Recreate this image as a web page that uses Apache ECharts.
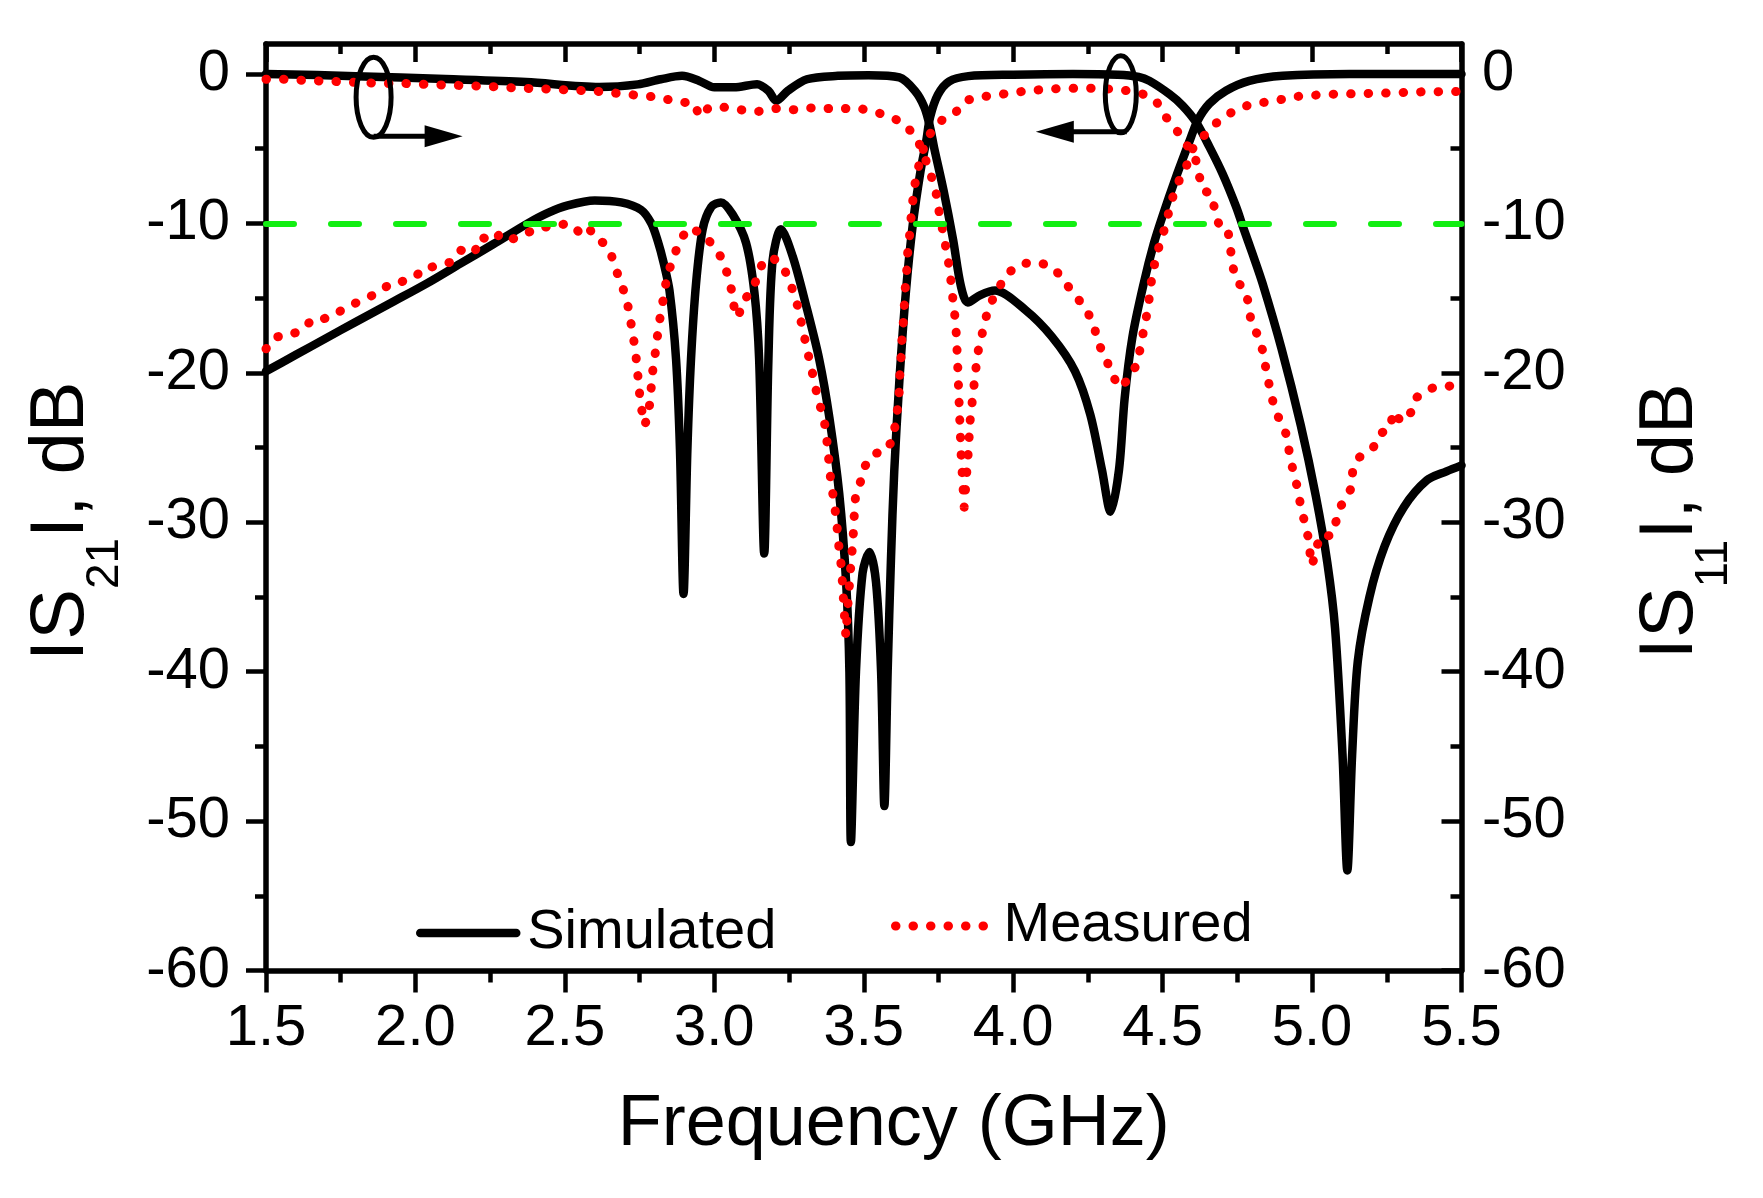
<!DOCTYPE html>
<html>
<head>
<meta charset="utf-8">
<script src="https://cdn.jsdelivr.net/npm/echarts@6/dist/echarts.min.js"></script>
<style>
html,body{margin:0;padding:0;background:#fff;}
#main{width:1763px;height:1198px;}
</style>
</head>
<body>
<div id="main"></div>
<script>
// S21 simulated (left axis)
var s21SimFreq = [1.5, 1.6, 1.7, 1.8, 1.93, 2.04, 2.15, 2.26, 2.376, 2.443, 2.51, 2.6, 2.688, 2.755, 2.789, 2.811, 2.83, 2.85, 2.872, 2.885, 2.897, 2.91, 2.922, 2.939, 2.961, 2.99, 3.022, 3.061, 3.106, 3.134, 3.15, 3.167, 3.181, 3.195, 3.223, 3.262, 3.307, 3.351, 3.385, 3.418, 3.441, 3.452, 3.457, 3.474, 3.496, 3.519, 3.541, 3.558, 3.569, 3.58, 3.591, 3.602, 3.619, 3.641, 3.664, 3.69, 3.709, 3.722, 3.748, 3.786, 3.85, 4.0, 4.2, 4.35, 4.42, 4.456, 4.523, 4.567, 4.612, 4.657, 4.701, 4.746, 4.77, 4.8, 4.834, 4.898, 4.962, 5.013, 5.051, 5.077, 5.102, 5.118, 5.134, 5.153, 5.192, 5.243, 5.307, 5.384, 5.45, 5.5];
var s21SimDb = [-19.9, -18.8, -17.7, -16.6, -15.2, -14.0, -12.7, -11.4, -10.0, -9.3, -8.8, -8.47, -8.6, -9.1, -10.0, -11.2, -12.6, -14.5, -19.1, -25.1, -34.8, -25.1, -19.1, -14.0, -10.4, -8.9, -8.6, -9.4, -11.3, -14.6, -19.1, -32.1, -19.1, -12.5, -10.4, -12.2, -15.5, -19.1, -23.0, -28.1, -34.0, -40.0, -51.4, -40.0, -33.4, -32.0, -34.0, -40.0, -49.0, -40.0, -32.5, -26.6, -20.6, -14.6, -10.1, -6.5, -4.5, -2.9, -1.4, -0.5, -0.15, -0.05, 0.0, -0.05, -0.2, -0.47, -1.36, -2.13, -3.24, -4.9, -6.7, -8.9, -10.3, -12.0, -14.0, -18.4, -23.5, -28.3, -32.7, -37.1, -45.6, -53.3, -45.6, -39.3, -35.0, -31.6, -29.0, -27.2, -26.6, -26.2];

// S11 simulated (right axis)
var s11SimFreq = [1.5, 1.8, 2.1, 2.37, 2.615, 2.744, 2.821, 2.892, 2.95, 3.0, 3.066, 3.143, 3.181, 3.207, 3.246, 3.31, 3.413, 3.516, 3.619, 3.671, 3.703, 3.722, 3.735, 3.767, 3.799, 3.825, 3.848, 3.89, 3.939, 4.041, 4.13, 4.207, 4.258, 4.297, 4.326, 4.354, 4.373, 4.399, 4.437, 4.47, 4.5, 4.545, 4.59, 4.617, 4.656, 4.712, 4.79, 4.902, 5.125, 5.5];
var s11SimDb = [0.0, -0.15, -0.35, -0.55, -0.87, -0.7, -0.36, -0.13, -0.47, -0.9, -0.9, -0.69, -1.13, -1.8, -1.13, -0.36, -0.13, -0.09, -0.24, -1.13, -2.24, -3.58, -4.9, -7.8, -11.1, -14.2, -15.3, -14.8, -14.5, -15.8, -17.6, -19.9, -22.8, -26.5, -29.3, -26.5, -21.7, -17.6, -14.0, -11.4, -9.5, -6.9, -4.5, -3.13, -2.0, -1.13, -0.47, -0.13, 0.0, 0.0];

// S21 measured (left axis)
var s21MeasFreq = [1.5, 1.533, 1.578, 1.623, 1.656, 1.69, 1.727, 1.76, 1.804, 1.843, 1.885, 1.921, 1.954, 2.0, 2.027, 2.067, 2.117, 2.151, 2.197, 2.217, 2.261, 2.283, 2.318, 2.359, 2.409, 2.46, 2.512, 2.549, 2.577, 2.605, 2.629, 2.652, 2.669, 2.688, 2.707, 2.718, 2.727, 2.736, 2.742, 2.747, 2.754, 2.768, 2.782, 2.788, 2.793, 2.801, 2.808, 2.816, 2.825, 2.834, 2.845, 2.866, 2.88, 2.914, 2.963, 2.992, 3.024, 3.044, 3.058, 3.067, 3.08, 3.095, 3.128, 3.148, 3.167, 3.201, 3.229, 3.251, 3.271, 3.284, 3.296, 3.309, 3.321, 3.335, 3.346, 3.363, 3.374, 3.379, 3.385, 3.39, 3.399, 3.407, 3.413, 3.418, 3.426, 3.429, 3.436, 3.44, 3.447, 3.452, 3.456, 3.461, 3.465, 3.468, 3.472, 3.489, 3.502, 3.535, 3.569, 3.597, 3.606, 3.614, 3.619, 3.621, 3.625, 3.628, 3.633, 3.636, 3.639, 3.644, 3.647, 3.653, 3.658, 3.664, 3.671, 3.69, 3.71, 3.735, 3.767, 3.806, 3.845, 3.893, 3.945, 3.999, 4.057, 4.108, 4.16, 4.215, 4.276, 4.334, 4.385, 4.43, 4.478, 4.503, 4.545, 4.573, 4.606, 4.621, 4.634, 4.662, 4.676, 4.69, 4.718, 4.726, 4.733, 4.745, 4.777, 4.79, 4.796, 4.822, 4.84, 4.847, 4.86, 4.872, 4.892, 4.918, 4.924, 4.937, 4.95, 4.962, 4.975, 4.988, 4.994, 5.0, 5.026, 5.065, 5.097, 5.129, 5.136, 5.155, 5.205, 5.225, 5.263, 5.27, 5.3, 5.333, 5.346, 5.375, 5.405, 5.44, 5.476, 5.5];
var s21MeasDb = [-18.4, -17.6, -17.5, -17.1, -16.4, -16.4, -16.2, -15.7, -15.3, -14.96, -14.5, -13.96, -13.9, -13.6, -12.96, -12.9, -12.6, -11.8, -12.0, -10.9, -11.2, -10.7, -11.1, -10.8, -10.3, -10.2, -10.0, -10.6, -10.2, -11.1, -11.3, -11.9, -13.0, -14.0, -15.1, -16.3, -17.4, -18.5, -19.7, -20.8, -22.2, -23.5, -22.4, -21.2, -20.0, -18.9, -17.8, -16.6, -15.6, -14.4, -13.3, -12.2, -11.3, -10.3, -10.7, -11.4, -12.3, -13.4, -14.5, -15.7, -16.3, -15.2, -14.5, -13.3, -12.4, -12.4, -12.8, -13.9, -14.9, -16.0, -17.1, -18.3, -19.4, -20.6, -21.7, -22.8, -23.9, -25.1, -26.2, -27.3, -28.4, -29.6, -30.8, -31.9, -33.1, -34.2, -36.4, -37.6, -35.5, -34.2, -33.1, -31.9, -30.8, -29.6, -28.4, -27.3, -26.3, -25.4, -25.3, -24.5, -23.4, -22.3, -21.2, -20.0, -18.9, -17.7, -16.5, -15.4, -14.3, -13.1, -12.0, -10.9, -9.7, -8.5, -7.4, -5.6, -4.4, -3.6, -3.0, -2.6, -1.76, -1.53, -1.42, -1.24, -1.13, -1.02, -0.98, -0.96, -0.96, -1.02, -1.13, -1.31, -1.8, -2.7, -3.7, -4.6, -5.3, -6.7, -7.8, -8.0, -9.2, -10.2, -10.4, -11.5, -12.7, -13.8, -14.5, -15.6, -16.7, -17.6, -18.9, -20.0, -21.1, -22.2, -23.2, -24.3, -25.4, -26.6, -27.6, -28.9, -30.0, -31.1, -32.2, -32.9, -30.9, -30.9, -28.9, -27.8, -26.6, -25.7, -25.0, -24.1, -23.7, -22.6, -23.3, -22.6, -21.7, -21.3, -21.0, -21.0, -20.8, -20.6];

// S11 measured (right axis)
var s11MeasFreq = [1.5, 1.555, 1.613, 1.672, 1.73, 1.787, 1.841, 1.9, 1.959, 2.015, 2.074, 2.132, 2.188, 2.246, 2.302, 2.361, 2.42, 2.48, 2.54, 2.6, 2.647, 2.705, 2.763, 2.821, 2.879, 2.93, 2.952, 2.982, 3.037, 3.094, 3.143, 3.201, 3.256, 3.297, 3.355, 3.41, 3.467, 3.524, 3.58, 3.628, 3.671, 3.696, 3.715, 3.735, 3.748, 3.754, 3.767, 3.777, 3.787, 3.793, 3.799, 3.806, 3.81, 3.815, 3.82, 3.826, 3.836, 3.849, 3.856, 3.868, 3.881, 3.894, 3.907, 3.926, 3.977, 4.028, 4.086, 4.137, 4.175, 4.207, 4.246, 4.271, 4.284, 4.31, 4.329, 4.358, 4.386, 4.412, 4.425, 4.437, 4.45, 4.463, 4.478, 4.489, 4.506, 4.52, 4.536, 4.556, 4.581, 4.601, 4.64, 4.679, 4.729, 4.785, 4.841, 4.9, 4.955, 5.013, 5.072, 5.14, 5.25, 5.37, 5.5];
var s11MeasDb = [-0.36, -0.36, -0.42, -0.47, -0.51, -0.56, -0.6, -0.64, -0.64, -0.69, -0.73, -0.76, -0.8, -0.84, -0.91, -0.96, -1.0, -1.05, -1.1, -1.15, -1.24, -1.36, -1.47, -1.58, -1.91, -1.91, -2.87, -2.24, -2.24, -2.42, -2.53, -2.31, -2.42, -2.31, -2.24, -2.4, -2.24, -2.47, -2.8, -3.24, -4.1, -5.1, -6.2, -7.4, -8.5, -9.6, -10.7, -11.9, -13.0, -14.1, -15.2, -16.4, -17.5, -19.8, -22.5, -25.5, -29.0, -25.5, -23.2, -21.0, -18.7, -17.6, -16.4, -15.3, -13.4, -12.7, -12.6, -13.0, -14.0, -14.8, -15.8, -16.9, -18.0, -19.0, -20.1, -21.0, -20.4, -19.5, -18.4, -17.1, -15.8, -13.8, -12.2, -11.5, -10.4, -9.3, -8.1, -7.1, -6.1, -5.0, -4.1, -3.3, -2.6, -2.1, -1.9, -1.7, -1.5, -1.42, -1.36, -1.33, -1.28, -1.2, -1.18];

// axes
var yMajorTicks = [-60, -50, -40, -30, -20, -10, 0];
var yMinorTicks = [-55, -45, -35, -25, -15, -5];
var thresholdDb = -10;

var FONT = "'Liberation Sans', Arial, sans-serif";

function pairs(xs, ys) {
	var out = [];
	for (var i = 0; i < xs.length; i++) {
		out.push([xs[i], ys[i]]);
	}
	return out;
}

// subscript pushed below the baseline with top padding
var titleRich = {
	a: { fontSize: 76, fontFamily: FONT, color: '#000', lineHeight: 76, verticalAlign: 'top' },
	s: { fontSize: 46, fontFamily: FONT, color: '#000', lineHeight: 46, verticalAlign: 'top', padding: [58, 0, 0, 0] }
};

function yAxisMain(pos, name, inside, margin, gap) {
	return {
		type: 'value', position: pos, min: -60, max: 2,
		axisLine: { show: true, onZero: false, lineStyle: { color: '#000', width: 5.5 } },
		axisTick: { show: true, inside: inside, length: 20, customValues: yMajorTicks, lineStyle: { color: '#000', width: 4.5 } },
		axisLabel: { show: true, customValues: yMajorTicks, margin: margin, fontSize: 58, fontFamily: FONT, color: '#000' },
		splitLine: { show: false },
		name: name, nameLocation: 'middle', nameRotate: 90, nameGap: gap, nameMoveOverlap: false,
		nameTextStyle: { rich: titleRich, padding: [0, 28, 0, 0] }
	};
}

function yAxisMinor(pos, inside) {
	return {
		type: 'value', position: pos, min: -60, max: 2,
		axisLine: { show: false },
		axisTick: { show: true, inside: inside, length: 11, customValues: yMinorTicks, lineStyle: { color: '#000', width: 4.5 } },
		axisLabel: { show: false },
		splitLine: { show: false }
	};
}

var chart = echarts.init(document.getElementById('main'));

var option = {
	animation: false,
	backgroundColor: '#fff',
	grid: { left: 266, right: 301.5, top: 44, bottom: 227.5 },
	legend: [
		{
			data: ['Simulated'], left: 416, top: 905, padding: 0,
			itemWidth: 96, itemHeight: 14,
			itemStyle: { opacity: 0 },
			lineStyle: { width: 8.5 },
			textStyle: { fontSize: 56, fontFamily: FONT, color: '#000', padding: [0, 0, 0, 6] },
			selectedMode: false
		},
		{
			data: ['Measured'], left: 891, top: 898, padding: 0,
			itemWidth: 90, itemHeight: 14,
			itemStyle: { opacity: 0 },
			lineStyle: { width: 9, type: [0.5, 17], cap: 'round' },
			textStyle: { fontSize: 56, fontFamily: FONT, color: '#000', padding: [0, 0, 0, 13] },
			selectedMode: false
		}
	],
	xAxis: [
		{
			type: 'value', position: 'bottom', min: 1.5, max: 5.5, interval: 0.5,
			axisLine: { show: true, onZero: false, lineStyle: { color: '#000', width: 5.5 } },
			axisTick: { show: true, inside: false, length: 22, lineStyle: { color: '#000', width: 4.5 } },
			minorTick: { show: true, splitNumber: 2, length: 12, lineStyle: { color: '#000', width: 4.5 } },
			axisLabel: { margin: 29, fontSize: 58, fontFamily: FONT, color: '#000',
				formatter: function (v) { return v.toFixed(1); } },
			splitLine: { show: false },
			name: 'Frequency (GHz)', nameLocation: 'middle', nameGap: 119,
			nameTextStyle: { fontSize: 72, fontFamily: FONT, color: '#000', padding: [0, 0, 0, 60] }
		},
		{
			type: 'value', position: 'top', min: 1.5, max: 5.5, interval: 0.5,
			axisLine: { show: true, onZero: false, lineStyle: { color: '#000', width: 5.5 } },
			axisTick: { show: true, inside: true, length: 18, lineStyle: { color: '#000', width: 4.5 } },
			minorTick: { show: true, splitNumber: 2, length: 10, lineStyle: { color: '#000', width: 4.5 } },
			axisLabel: { show: false },
			splitLine: { show: false }
		}
	],
	yAxis: [
		yAxisMain('left', '{a|IS}{s|21}{a|I, dB}', false, 36, 166),
		yAxisMinor('left', false),
		yAxisMain('right', '{a|IS}{s|11}{a|I, dB}', true, 20.5, 172),
		yAxisMinor('right', true)
	],
	series: [
		{
			name: 'Simulated', type: 'line', xAxisIndex: 0, yAxisIndex: 0,
			data: pairs(s21SimFreq, s21SimDb),
			showSymbol: false, symbol: 'none', smooth: 0.3,
			lineStyle: { color: '#000', width: 8.5, join: 'round', cap: 'round' },
			itemStyle: { color: '#000' },
			markLine: {
				silent: true, symbol: ['none', 'none'],
				label: { show: false },
				lineStyle: { color: '#11ee11', width: 6, type: [28, 37], cap: 'round' },
				data: [{ yAxis: thresholdDb }]
			}
		},
		{
			name: 'Simulated', type: 'line', xAxisIndex: 0, yAxisIndex: 2,
			data: pairs(s11SimFreq, s11SimDb),
			showSymbol: false, symbol: 'none', smooth: 0.3,
			lineStyle: { color: '#000', width: 8.5, join: 'round', cap: 'round' },
			itemStyle: { color: '#000' }
		},
		{
			name: 'Measured', type: 'line', xAxisIndex: 0, yAxisIndex: 0,
			data: pairs(s21MeasFreq, s21MeasDb),
			showSymbol: false, symbol: 'none',
			lineStyle: { color: '#ff0000', width: 9, type: [0.5, 17], cap: 'round', join: 'round' },
			itemStyle: { color: '#ff0000' }
		},
		{
			name: 'Measured', type: 'line', xAxisIndex: 0, yAxisIndex: 2,
			data: pairs(s11MeasFreq, s11MeasDb),
			showSymbol: false, symbol: 'none',
			lineStyle: { color: '#ff0000', width: 9, type: [0.5, 17], cap: 'round', join: 'round' },
			itemStyle: { color: '#ff0000' }
		}
	]
};

chart.setOption(option);

// ellipse + arrow markers, anchored in data units
var markers = [
	{ f: 1.86, db: -1.57, rx: 17.5, ry: 40, dir: 1, len: 89 },
	{ f: 4.36, db: -1.37, rx: 15.5, ry: 38.5, dir: -1, len: 91 }
];
var graphics = [];
markers.forEach(function (m) {
	var c = chart.convertToPixel({ xAxisIndex: 0, yAxisIndex: 0 }, [m.f, m.db]);
	var y = c[1] + m.ry - 1;
	var x0 = c[0] + (m.dir < 0 ? 6 : 0);
	var tip = x0 + m.dir * m.len;
	graphics.push({
		type: 'ellipse', shape: { cx: c[0], cy: c[1], rx: m.rx, ry: m.ry },
		style: { fill: 'none', stroke: '#000', lineWidth: 5 }, z: 100
	});
	graphics.push({
		type: 'line', shape: { x1: x0, y1: y, x2: tip - m.dir * 30, y2: y },
		style: { stroke: '#000', lineWidth: 5 }, z: 100
	});
	graphics.push({
		type: 'polygon', shape: { points: [[tip, y], [tip - m.dir * 38, y - 11], [tip - m.dir * 38, y + 11]] },
		style: { fill: '#000' }, z: 100
	});
});
chart.setOption({ graphic: graphics });
</script>
</body>
</html>
